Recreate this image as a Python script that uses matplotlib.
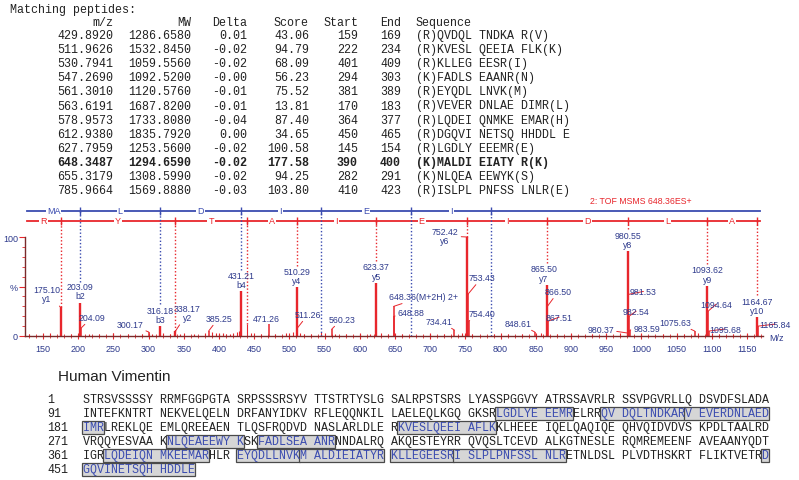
import numpy as np
import matplotlib
matplotlib.use("Agg")
import matplotlib.pyplot as plt
from matplotlib.patches import Rectangle
from matplotlib.ticker import MultipleLocator, FixedLocator

# ---------------- matching peptides table ----------------
pep_mz = [429.8920, 511.9626, 530.7941, 547.2690, 561.3010, 563.6191,
          578.9573, 612.9380, 627.7959, 648.3487, 655.3179, 785.9664]
pep_mw = [1286.6580, 1532.8450, 1059.5560, 1092.5200, 1120.5760, 1687.8200,
          1733.8080, 1835.7920, 1253.5600, 1294.6590, 1308.5990, 1569.8880]
pep_delta = [0.01, -0.02, -0.02, -0.00, -0.01, -0.01,
             -0.04, 0.00, -0.02, -0.02, -0.02, -0.03]
pep_score = [43.06, 94.79, 68.09, 56.23, 75.52, 13.81,
             87.40, 34.65, 100.58, 177.58, 94.25, 103.80]
pep_start = [159, 222, 401, 294, 381, 170, 364, 450, 145, 390, 282, 410]
pep_end = [169, 234, 409, 303, 389, 183, 377, 465, 154, 400, 291, 423]
pep_seq = ["(R)QVDQL TNDKA R(V)", "(R)KVESL QEEIA FLK(K)", "(R)KLLEG EESR(I)",
           "(K)FADLS EAANR(N)", "(R)EYQDL LNVK(M)", "(R)VEVER DNLAE DIMR(L)",
           "(R)LQDEI QNMKE EMAR(H)", "(R)DGQVI NETSQ HHDDL E", "(R)LGDLY EEEMR(E)",
           "(K)MALDI EIATY R(K)", "(K)NLQEA EEWYK(S)", "(R)ISLPL PNFSS LNLR(E)"]
bold_row = 9

# ---------------- MS/MS spectrum ----------------
ion_mz = [175.10, 203.09, 316.18, 338.17, 431.21, 510.29,
          623.37, 752.42, 865.50, 980.55, 1093.62, 1164.67]
ion_int = [29, 33, 10, 5, 45, 49, 54, 100, 52, 86, 51, 19]
ion_name = ["y1", "b2", "b3", "y2", "b4", "y4", "y5", "y6", "y7", "y8", "y9", "y10"]

other_mz = [204.09, 300.17, 385.25, 471.26, 511.26, 560.23, 648.36, 648.88,
            734.41, 753.43, 754.40, 848.61, 866.50, 867.51, 980.37, 981.53,
            982.54, 983.59, 1075.63, 1094.64, 1095.68, 1165.84]
other_int = [8, 4, 5, 12, 8, 7, 30, 20, 6, 42, 15, 4, 30, 15, 3, 42,
             20, 6, 5, 25, 5, 10]
other_label = ["204.09", "300.17", "385.25", "471.26", "511.26", "560.23",
               "648.36(M+2H) 2+", "648.88", "734.41", "753.43", "754.40", "848.61",
               "866.50", "867.51", "980.37", "981.53", "982.54", "983.59",
               "1075.63", "1094.64", "1095.68", "1165.84"]

noise_mz = [130, 160, 190, 215, 230, 250, 270, 290, 305, 320, 330, 345, 365,
            380, 390, 395, 400, 405, 410, 415, 420, 425, 428, 439.21, 445, 460,
            480, 495, 505, 515, 520, 530, 545, 565, 580, 600, 615, 630, 640,
            660, 700, 720, 745, 760, 790, 810, 830, 858, 880, 900, 930, 950,
            970, 1000, 1030, 1060, 1080, 1110, 1130, 1150]
noise_int = [2, 3, 2, 2, 2, 3, 2, 2, 2, 3, 2, 2, 2, 3, 4, 3, 2, 3, 2, 2, 3,
             4, 5, 12, 3, 2, 2, 3, 4, 3, 2, 2, 4, 2, 2, 2, 2, 3, 2, 2, 2, 2,
             3, 2, 2, 2, 2, 3, 2, 2, 2, 2, 3, 2, 2, 2, 3, 2, 2, 2]

b_marks = [203.09, 316.18, 431.21, 544.30, 673.34, 786.42]
b_letters = ["MA", "L", "D", "I", "E", "I"]
y_marks = [175.10, 338.17, 439.21, 510.29, 623.37, 752.42, 865.50, 980.55, 1093.62, 1164.67]
y_letters = ["R", "Y", "T", "A", "I", "E", "I", "D", "L", "A"]

# ---------------- protein sequence ----------------
seq_rows = [
    "STRSVSSSSY RRMFGGPGTA SRPSSSRSYV TTSTRTYSLG SALRPSTSRS LYASSPGGVY ATRSSAVRLR SSVPGVRLLQ DSVDFSLADA",
    "INTEFKNTRT NEKVELQELN DRFANYIDKV RFLEQQNKIL LAELEQLKGQ GKSRLGDLYE EEMRELRRQV DQLTNDKARV EVERDNLAED",
    "IMRLREKLQE EMLQREEAEN TLQSFRQDVD NASLARLDLE RKVESLQEEI AFLKKLHEEE IQELQAQIQE QHVQIDVDVS KPDLTAALRD",
    "VRQQYESVAA KNLQEAEEWY KSKFADLSEA ANRNNDALRQ AKQESTEYRR QVQSLTCEVD ALKGTNESLE RQMREMEENF AVEAANYQDT",
    "IGRLQDEIQN MKEEMARHLR EYQDLLNVKM ALDIEIATYR KLLEGEESRI SLPLPNFSSL NLRETNLDSL PLVDTHSKRT FLIKTVETRD",
    "GQVINETSQH HDDLE",
]
sequence = "".join(seq_rows).replace(" ", "")

# ---------------- styling ----------------
W, H = 799, 481
mono = "Liberation Mono"
sans = "Liberation Sans"
ink = "#222222"
red = "#e8262c"
navy = "#2e3a8c"
blue = "#3b4cb0"

fig = plt.figure(figsize=(W / 100, H / 100), dpi=100)
bg = fig.add_axes([0, 0, 1, 1])
bg.set_xlim(0, W)
bg.set_ylim(H, 0)
bg.axis("off")

# pick the mono size so one character is ~6.92 px wide, as in the picture
rend = fig.canvas.get_renderer()
probe = bg.text(0, 0, "M" * 100, family=mono, fontsize=8.3)
fs = 8.3 * 6.92 / (probe.get_window_extent(rend).width / 100)
probe.set_fontsize(fs)
cw = probe.get_window_extent(rend).width / 100
probe.remove()

# table
bg.text(10, 10, "Matching peptides:", family=mono, fontsize=fs, va="center", color=ink)
num_x = [113, 191, 247, 309, 358]
for name, x in zip(["m/z", "MW", "Delta", "Score", "Start"], num_x):
    bg.text(x, 23, name, family=mono, fontsize=fs, va="center", ha="right", color=ink)
bg.text(380, 23, "End", family=mono, fontsize=fs, va="center", color=ink)
bg.text(416, 23, "Sequence", family=mono, fontsize=fs, va="center", color=ink)
for i in range(len(pep_mz)):
    y = 36 + i * 14.1
    wt = "bold" if i == bold_row else "normal"
    vals = [f"{pep_mz[i]:.4f}", f"{pep_mw[i]:.4f}", f"{pep_delta[i]:.2f}",
            f"{pep_score[i]:.2f}", str(pep_start[i])]
    for v, x in zip(vals, num_x):
        bg.text(x, y, v, family=mono, fontsize=fs, va="center", ha="right",
                color=ink, fontweight=wt)
    bg.text(380, y, str(pep_end[i]), family=mono, fontsize=fs, va="center",
            color=ink, fontweight=wt)
    bg.text(416, y, pep_seq[i], family=mono, fontsize=fs, va="center",
            color=ink, fontweight=wt)

# spectrum axes
ax = fig.add_axes([25 / W, (H - 337) / H, (763 - 25) / W, (337 - 200) / H])
ax.patch.set_alpha(0)
ax.set_xlim(124.4, 1172.7)
ax.set_ylim(0, 138.4)
ax.spines["top"].set_visible(False)
ax.spines["right"].set_visible(False)
ax.spines["left"].set_bounds(0, 100)
for s in ["left", "bottom"]:
    ax.spines[s].set_color("#7a2a2a")
    ax.spines[s].set_linewidth(1.0)
ax.xaxis.set_major_locator(FixedLocator(np.arange(150, 1151, 50)))
ax.xaxis.set_minor_locator(MultipleLocator(10))
ax.yaxis.set_major_locator(FixedLocator([0, 50, 100]))
ax.yaxis.set_minor_locator(FixedLocator(np.arange(0, 101, 10)))
ax.set_yticklabels(["0", "%", "100"])
ax.tick_params(axis="x", which="major", direction="inout", length=5, width=0.8,
               color=red, labelsize=6.5, labelcolor=navy, pad=3)
ax.tick_params(axis="x", which="minor", direction="inout", length=3, width=0.6, color=red)
ax.tick_params(axis="y", which="major", direction="out", length=4, width=0.8,
               color=red, labelsize=6.5, labelcolor=navy, pad=1)
ax.tick_params(axis="y", which="minor", direction="out", length=2.5, width=0.6, color=red)
for lab in ax.get_xticklabels() + ax.get_yticklabels():
    lab.set_family(sans)
ax.annotate("M/z", xy=(1, 0), xycoords="axes fraction", xytext=(6, -2), family=sans,
            textcoords="offset pixels", va="center", ha="left", fontsize=6.5, color=navy)

ax.vlines(noise_mz, 0, noise_int, color=red, lw=0.8)
ax.vlines(other_mz, 0, other_int, color=red, lw=1.1)
ax.vlines(ion_mz, 0, ion_int, color=red, lw=1.7)

# label layout (pixel offsets from peak top)
ion_offsets = [(-14, 4), (0, 3), (0, 2), (12, 9), (0, 2), (0, 2),
               (0, 2), (-22, -8), (-3, 2), (0, 2), (0, 2), (0, 2)]
other_offsets = [(11, 11), (-19, 8), (10, 13), (-3, 6), (11, 14), (10, 10),
                 (30, 10), (17, 4), (-15, 9), (14, 17), (13, 8), (-17, 9),
                 (11, 15), (11, 4), (-27, 4), (15, 3), (7, 5), (17, 2),
                 (-19, 9), (8, 7), (16, 2), (17, 2)]
conn = dict(arrowstyle="-", color=red, lw=0.7, shrinkA=0, shrinkB=0)

for m, h, n, (dx, dy) in zip(ion_mz, ion_int, ion_name, ion_offsets):
    ax.annotate(f"{m:.2f}\n{n}", xy=(m, h), xytext=(dx, dy), textcoords="offset pixels",
                ha="center", va="bottom", fontsize=6.3, family=sans, color=navy,
                linespacing=1.05, arrowprops=conn if abs(dx) > 6 else None)
for m, h, t, (dx, dy) in zip(other_mz, other_int, other_label, other_offsets):
    ax.annotate(t, xy=(m, h), xytext=(dx, dy), textcoords="offset pixels",
                ha="center", va="center", fontsize=6.3, family=sans, color=navy,
                arrowprops=conn if abs(dx) > 6 else None)

# fragment ladders
b_level, y_level = 126.3, 116.2
ladder_start, ladder_end = 127, 1168


def stop_level(m):
    for k, im in enumerate(ion_mz):
        if abs(im - m) < 0.01:
            return ion_int[k] + 22 if abs(ion_offsets[k][0]) <= 6 else ion_int[k]
    for k, om in enumerate(noise_mz):
        if abs(om - m) < 0.01:
            return noise_int[k]
    return 0


ax.plot([ladder_start, ladder_end], [b_level, b_level], color=blue, lw=1.3, clip_on=False)
ax.plot([ladder_start, ladder_end], [y_level, y_level], color=red, lw=1.3, clip_on=False)
prev = ladder_start
for m, let in zip(b_marks, b_letters):
    ax.vlines(m, b_level - 4, b_level + 4, color=blue, lw=1.0)
    ax.vlines(m, stop_level(m), b_level, color=blue, lw=1.0, linestyles=(0, (1, 1.5)))
    ax.text((prev + m) / 2, b_level, let, ha="center", va="center", fontsize=6.5,
            family=sans, color=blue, bbox=dict(facecolor="white", edgecolor="none", pad=0.8))
    prev = m
prev = ladder_start
for m, let in zip(y_marks, y_letters):
    ax.vlines(m, y_level - 4, y_level + 4, color=red, lw=1.0)
    ax.vlines(m, stop_level(m), y_level, color=red, lw=1.0, linestyles=(0, (1, 1.5)))
    ax.text((prev + m) / 2, y_level, let, ha="center", va="center", fontsize=6.5,
            family=sans, color=red, bbox=dict(facecolor="white", edgecolor="none", pad=0.8))
    prev = m
ax.text(999, 136.4, "2: TOF MSMS 648.36ES+", ha="center", va="center", fontsize=6.3,
        family=sans, color=red)

# protein sequence with matched peptides
bg.text(58, 377, "Human Vimentin", fontsize=11, family=sans, va="center", color="#222222")
covered = np.zeros(len(sequence) + 2, dtype=bool)
for s, e in zip(pep_start, pep_end):
    covered[s:e + 1] = True
for r0 in range(0, len(sequence), 90):
    row = r0 // 90
    y = 400 + row * 14
    chunk = sequence[r0:r0 + 90]
    plain, hi = "", ""
    for p, ch in enumerate(chunk):
        if p and p % 10 == 0:
            plain += " "
            hi += " "
        if covered[r0 + p + 1]:
            hi += ch
            plain += " "
        else:
            plain += ch
            hi += " "
    bg.text(47, y, str(r0 + 1), family=mono, fontsize=fs, va="center", color=ink)
    for s, e in zip(pep_start, pep_end):
        a = max(s - 1, r0)
        b = min(e - 1, r0 + len(chunk) - 1)
        if a > b:
            continue
        p0, p1 = a - r0, b - r0
        c0, c1 = p0 + p0 // 10, p1 + p1 // 10
        bg.add_patch(Rectangle((83 + c0 * cw - 1, y - 6.5), (c1 - c0 + 1) * cw + 1, 13,
                               facecolor="#d6d6d6", edgecolor="#4a4a4a", lw=0.9, zorder=1))
    bg.text(83, y, plain, family=mono, fontsize=fs, va="center", color=ink, zorder=2)
    bg.text(83, y, hi, family=mono, fontsize=fs, va="center", color=blue, zorder=2)

fig.savefig("out.png", dpi=100)
